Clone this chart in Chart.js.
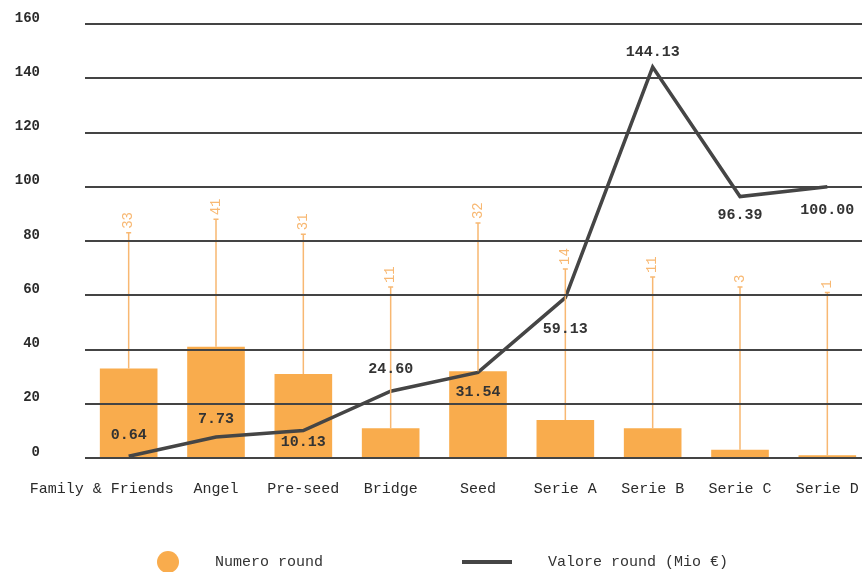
<!DOCTYPE html>
<html>
<head>
<meta charset="utf-8">
<script src="https://cdn.jsdelivr.net/npm/chart.js@4"></script>
<style>
  html, body { margin: 0; padding: 0; background: #fff; overflow: hidden; }
  #wrap { width: 871px; height: 572px; }
</style>
</head>
<body>
<div id="wrap"><canvas id="rounds-canvas"></canvas></div>
<script>
var roundTypes = ['Family & Friends', 'Angel', 'Pre-seed', 'Bridge', 'Seed', 'Serie A', 'Serie B', 'Serie C', 'Serie D'];

// numero round (bars)
var roundCount = [33, 41, 31, 11, 32, 14, 11, 3, 1];

// valore round in Mio € (line)
var roundValue = [0.64, 7.73, 10.13, 24.60, 31.54, 59.13, 144.13, 96.39, 100.00];

// height (axis units) where each count label sits
var countLabelLevel = [83, 88, 82.5, 63, 86.6, 69.7, 66.7, 63, 61];

var yTicks = [0, 20, 40, 60, 80, 100, 120, 140, 160];

var orange = '#F9AC4D';
var lightOrange = '#F8B872';
var darkLine = '#454545';
var monoFont = '"Liberation Mono", "DejaVu Sans Mono", monospace';

// where value labels go relative to the line point (px)
var valueLabelShift = [-21, -18, 12, -22, 20, 32, -15, 19, 23];

var labelsPlugin = {
    id: 'roundLabels',
    afterDatasetsDraw: function(chart) {
        var ctx = chart.ctx;
        var y = chart.scales.y;
        var barMeta = chart.getDatasetMeta(0);
        var lineMeta = chart.getDatasetMeta(1);

        ctx.save();
        // leader lines + rotated count labels
        barMeta.data.forEach(function(bar, i) {
            var top = y.getPixelForValue(countLabelLevel[i]);
            ctx.strokeStyle = lightOrange;
            ctx.lineWidth = 1.5;
            ctx.beginPath();
            ctx.moveTo(bar.x, bar.y);
            ctx.lineTo(bar.x, top);
            ctx.moveTo(bar.x - 2.5, top);
            ctx.lineTo(bar.x + 2.5, top);
            ctx.stroke();

            ctx.save();
            ctx.translate(bar.x, top - 4);
            ctx.rotate(-Math.PI / 2);
            ctx.fillStyle = lightOrange;
            ctx.font = '14px ' + monoFont;
            ctx.textAlign = 'left';
            ctx.textBaseline = 'middle';
            ctx.fillText(String(roundCount[i]), 0, 0);
            ctx.restore();
        });

        // value labels on the line
        ctx.fillStyle = '#333';
        ctx.font = 'bold 15px ' + monoFont;
        ctx.textAlign = 'center';
        ctx.textBaseline = 'middle';
        lineMeta.data.forEach(function(pt, i) {
            ctx.fillText(roundValue[i].toFixed(2), pt.x, pt.y + valueLabelShift[i]);
        });
        ctx.restore();
    },
    afterDraw: function(chart) {
        var ctx = chart.ctx;
        var ly = 562;
        ctx.save();
        ctx.fillStyle = orange;
        ctx.beginPath();
        ctx.arc(168, ly, 11, 0, Math.PI * 2);
        ctx.fill();

        ctx.strokeStyle = darkLine;
        ctx.lineWidth = 4;
        ctx.beginPath();
        ctx.moveTo(462, ly);
        ctx.lineTo(512, ly);
        ctx.stroke();

        ctx.fillStyle = '#333';
        ctx.font = '15px ' + monoFont;
        ctx.textAlign = 'left';
        ctx.textBaseline = 'middle';
        ctx.fillText(chart.data.datasets[0].label, 215, ly);
        ctx.fillText(chart.data.datasets[1].label, 548, ly);
        ctx.restore();
    }
};

var roundsChart = new Chart(document.getElementById('rounds-canvas'), {
    data: {
        labels: roundTypes,
        datasets: [
            {
                type: 'bar',
                label: 'Numero round',
                data: roundCount,
                backgroundColor: orange,
                barPercentage: 0.66,
                categoryPercentage: 1,
                order: 2
            },
            {
                type: 'line',
                label: 'Valore round (Mio €)',
                data: roundValue,
                borderColor: darkLine,
                borderWidth: 3.5,
                pointRadius: 0,
                tension: 0,
                fill: false,
                order: 1
            }
        ]
    },
    plugins: [labelsPlugin],
    options: {
        responsive: true,
        maintainAspectRatio: false,
        animation: false,
        layout: {
            padding: { top: 24, bottom: 74, left: 0, right: 0 }
        },
        plugins: {
            legend: { display: false },
            tooltip: { enabled: false }
        },
        scales: {
            y: {
                min: 0,
                max: 160,
                afterFit: function(scale) { scale.width = 85; },
                afterBuildTicks: function(scale) {
                    scale.ticks = yTicks.map(function(v) { return { value: v }; });
                },
                border: { display: false },
                grid: {
                    color: '#444',
                    lineWidth: 2,
                    drawTicks: true,
                    tickLength: 45,
                    tickColor: 'rgba(0,0,0,0)',
                    z: 1
                },
                ticks: {
                    padding: 0,
                    labelOffset: -6,
                    color: '#2b2b2b',
                    font: { family: monoFont, size: 14, weight: 'bold' }
                }
            },
            x: {
                border: { display: false },
                grid: {
                    drawOnChartArea: false,
                    drawTicks: true,
                    tickLength: 22,
                    color: 'rgba(0,0,0,0)'
                },
                ticks: {
                    padding: 0,
                    autoSkip: false,
                    maxRotation: 0,
                    minRotation: 0,
                    color: '#2b2b2b',
                    font: { family: monoFont, size: 15 },
                    callback: function(value, index) {
                        var name = this.getLabelForValue(value);
                        // first label is pushed left in the original so it clears "Angel"
                        return index === 0 ? name + '      ' : name;
                    }
                }
            }
        }
    }
});
</script>
</body>
</html>
